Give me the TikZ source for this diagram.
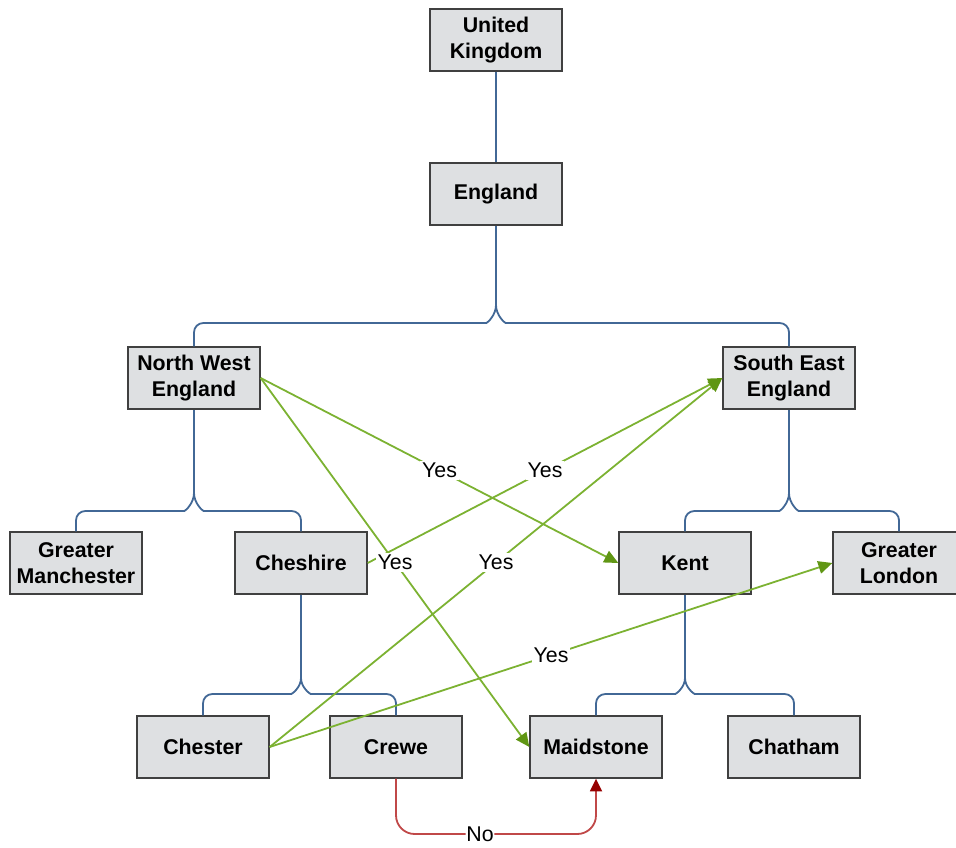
\documentclass[tikz,border=0pt]{standalone}
\usepackage{fontspec}
\setmainfont{Liberation Sans}
\usetikzlibrary{arrows.meta,shadows}

\definecolor{treeblue}{RGB}{66,104,150}
\definecolor{yesgreen}{RGB}{124,178,50}
\definecolor{yestip}{RGB}{96,150,20}
\definecolor{nored}{RGB}{192,72,72}
\definecolor{notip}{RGB}{150,0,0}
\definecolor{boxgray}{RGB}{222,224,226}

\begin{document}
\begin{tikzpicture}[
    x=0.75pt, y=-0.75pt,
    region/.style={
        rectangle,
        draw=black!75,
        line width=1pt,
        fill=boxgray,
        minimum width=99pt,
        minimum height=46.5pt,
        inner sep=0pt,
        align=center,
        font=\fontsize{16}{19}\selectfont\bfseries,
        drop shadow={shadow xshift=1.1pt, shadow yshift=-1.1pt, opacity=0.3}
    },
    tree/.style={draw=treeblue, line width=1.35pt, rounded corners=7pt},
    yes/.style={-{Triangle[length=10.5pt,width=9.5pt,color=yestip]}, draw=yesgreen, line width=1.35pt},
    no/.style={-{Triangle[length=9.5pt,width=9pt,color=notip]}, draw=nored, line width=1.35pt, rounded corners=14pt},
    lab/.style={fill=white, inner sep=1.5pt, font=\fontsize{16}{19}\selectfont}
]
\useasboundingbox (0,0) rectangle (956,847);

% =========================================================
% Regions
% =========================================================
\node[region] (uk)    at (496,40)    {United\\Kingdom};
\node[region] (eng)   at (496,194)   {England};
\node[region] (nwe)   at (194,378)   {North West\\England};
\node[region] (see)   at (789,378)   {South East\\England};
\node[region] (gm)    at (76,563)    {Greater\\Manchester};
\node[region] (chsh)  at (301,563)   {Cheshire};
\node[region] (kent)  at (685,563)   {Kent};
\node[region] (gl)    at (899,563)   {Greater\\London};
\node[region] (chst)  at (203,747)   {Chester};
\node[region] (crewe) at (396,747)   {Crewe};
\node[region] (maid)  at (596,747)   {Maidstone};
\node[region] (chat)  at (794,747)   {Chatham};

% Branch points
\coordinate (engj)  at (496,305);
\coordinate (nwej)  at (194,493);
\coordinate (seej)  at (789,493);
\coordinate (chshj) at (301,678);
\coordinate (kentj) at (685,678);

% =========================================================
% Tree
% =========================================================
\draw[tree] (uk.south) -- (eng.north);

\draw[tree] (eng.south) -- (engj);
\draw[tree] (engj) to[out=-90,in=0] (477,323) -- (nwe.north |- 0,323) -- (nwe.north);
\draw[tree] (engj) to[out=-90,in=180] (515,323) -- (see.north |- 0,323) -- (see.north);

\draw[tree] (nwe.south) -- (nwej);
\draw[tree] (nwej) to[out=-90,in=0] (175,511) -- (gm.north |- 0,511) -- (gm.north);
\draw[tree] (nwej) to[out=-90,in=180] (213,511) -- (chsh.north |- 0,511) -- (chsh.north);

\draw[tree] (see.south) -- (seej);
\draw[tree] (seej) to[out=-90,in=0] (770,511) -- (kent.north |- 0,511) -- (kent.north);
\draw[tree] (seej) to[out=-90,in=180] (808,511) -- (gl.north |- 0,511) -- (gl.north);

\draw[tree] (chsh.south) -- (chshj);
\draw[tree] (chshj) to[out=-90,in=0] (282,694) -- (chst.north |- 0,694) -- (chst.north);
\draw[tree] (chshj) to[out=-90,in=180] (320,694) -- (crewe.north |- 0,694) -- (crewe.north);

\draw[tree] (kent.south) -- (kentj);
\draw[tree] (kentj) to[out=-90,in=0] (666,694) -- (maid.north |- 0,694) -- (maid.north);
\draw[tree] (kentj) to[out=-90,in=180] (704,694) -- (chat.north |- 0,694) -- (chat.north);

% =========================================================
% Answers
% =========================================================
\draw[yes] (chsh.east) -- node[lab] {Yes} (see.west);
\draw[yes] (nwe.east) -- node[lab] {Yes} (kent.west);
\draw[yes] (nwe.east) -- node[lab] {Yes} (maid.west);
\draw[yes] (chst.east) -- node[lab] {Yes} (see.west);
\draw[yes] (chst.east) -- node[lab] {Yes} (gl.west);

\draw[no] (crewe.south) -- (crewe.south |- 0,834) -- node[lab, pos=0.42, inner sep=0.5pt] {No} (maid.south |- 0,834) -- (maid.south);

\end{tikzpicture}
\end{document}
